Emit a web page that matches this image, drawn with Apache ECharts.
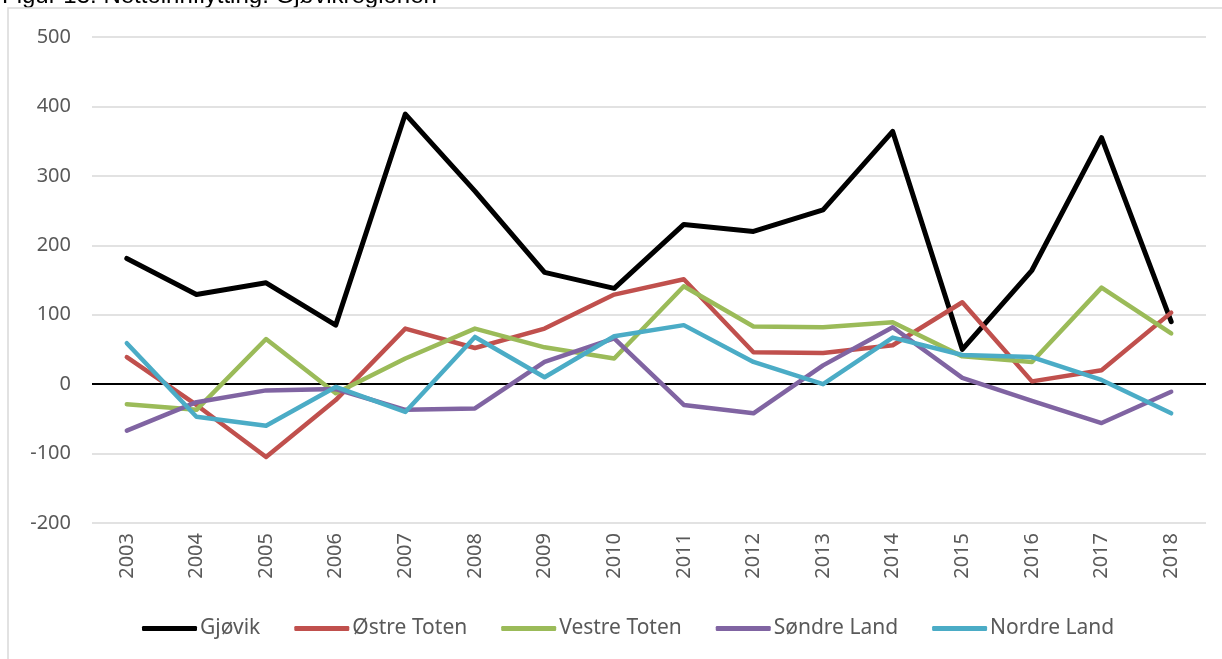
<!DOCTYPE html>
<html>
<head>
<meta charset="utf-8">
<script src="https://cdn.jsdelivr.net/npm/echarts@6/dist/echarts.min.js"></script>
<style>
  html, body { margin: 0; padding: 0; background: #fff; }
  #chart { width: 1222px; height: 659px; }
</style>
</head>
<body>
<div id="chart"></div>
<script>
const years = ['2003', '2004', '2005', '2006', '2007', '2008', '2009', '2010',
  '2011', '2012', '2013', '2014', '2015', '2016', '2017', '2018'];

const gjovik = [181, 129, 146, 85, 389, 278, 161, 138, 230, 220, 251, 364, 50, 164, 355, 90];
const ostreToten = [39, -30, -105, -23, 80, 52, 80, 129, 151, 46, 45, 56, 118, 4, 20, 103];
const vestreToten = [-29, -37, 65, -13, 37, 80, 53, 37, 141, 83, 82, 89, 40, 32, 139, 73];
const sondreLand = [-67, -26, -9, -7, -37, -35, 32, 66, -30, -42, 27, 82, 9, -24, -56, -11];
const nordreLand = [59, -47, -60, -4, -40, 68, 10, 69, 85, 32, 0, 67, 42, 39, 6, -42];

const seriesNames = ['Gjøvik', 'Østre Toten', 'Vestre Toten', 'Søndre Land', 'Nordre Land'];
const seriesData = [gjovik, ostreToten, vestreToten, sondreLand, nordreLand];
const colors = ['#000000', '#C0504D', '#9BBB59', '#8064A2', '#4BACC6'];

const font = '"Noto Sans", "DejaVu Sans", sans-serif';
const textColor = '#595959';

const myChart = echarts.init(document.getElementById('chart'));

const series = seriesData.map((data, i) => {
  const s = {
    name: seriesNames[i],
    type: 'line',
    data: data,
    symbol: 'none',
    lineStyle: { width: i === 0 ? 5 : 4.5, color: colors[i], cap: 'round', join: 'round' },
    itemStyle: { color: colors[i] },
    z: 3 + i,
  };
  if (i === 0) {
    // zero line drawn across the plot, labels stay at the bottom
    s.markLine = {
      silent: true,
      symbol: 'none',
      label: { show: false },
      lineStyle: { color: '#000', width: 2, type: 'solid' },
      data: [{ yAxis: 0 }],
      z: 2,
    };
  }
  return s;
});

const option = {
  animation: false,
  color: colors,
  graphic: [
    {
      type: 'text',
      left: 2,
      top: -16,
      style: {
        text: 'Figur 13: Nettoinnflytting. Gjøvikregionen',
        font: '24px "Liberation Sans", Arial, sans-serif',
        fill: '#000',
      },
    },
    {
      type: 'rect',
      shape: { x: 8, y: 8, width: 1230, height: 670 },
      style: { fill: 'none', stroke: '#d9d9d9', lineWidth: 1.5 },
      silent: true,
    },
  ],
  grid: {
    left: 92,
    right: 16,
    top: 37,
    bottom: 136,
  },
  legend: {
    data: seriesNames,
    left: 137,
    top: 613,
    itemWidth: 55,
    itemHeight: 5,
    itemGap: 34,
    icon: 'roundRect',
    textStyle: { fontFamily: font, fontSize: 21, color: textColor, padding: [0, 0, 0, -2] },
  },
  xAxis: {
    type: 'category',
    data: years,
    boundaryGap: true,
    axisLine: { show: false },
    axisTick: { show: false },
    axisLabel: {
      rotate: 90,
      margin: 10,
      fontFamily: font,
      fontSize: 20,
      color: textColor,
    },
  },
  yAxis: {
    type: 'value',
    min: -200,
    max: 500,
    interval: 100,
    axisLine: { show: false },
    axisTick: { show: false },
    splitLine: { lineStyle: { color: '#d9d9d9', width: 1.5 } },
    axisLabel: {
      margin: 21,
      fontFamily: font,
      fontSize: 20,
      color: textColor,
    },
  },
  series: series,
};

myChart.setOption(option);
</script>
</body>
</html>
